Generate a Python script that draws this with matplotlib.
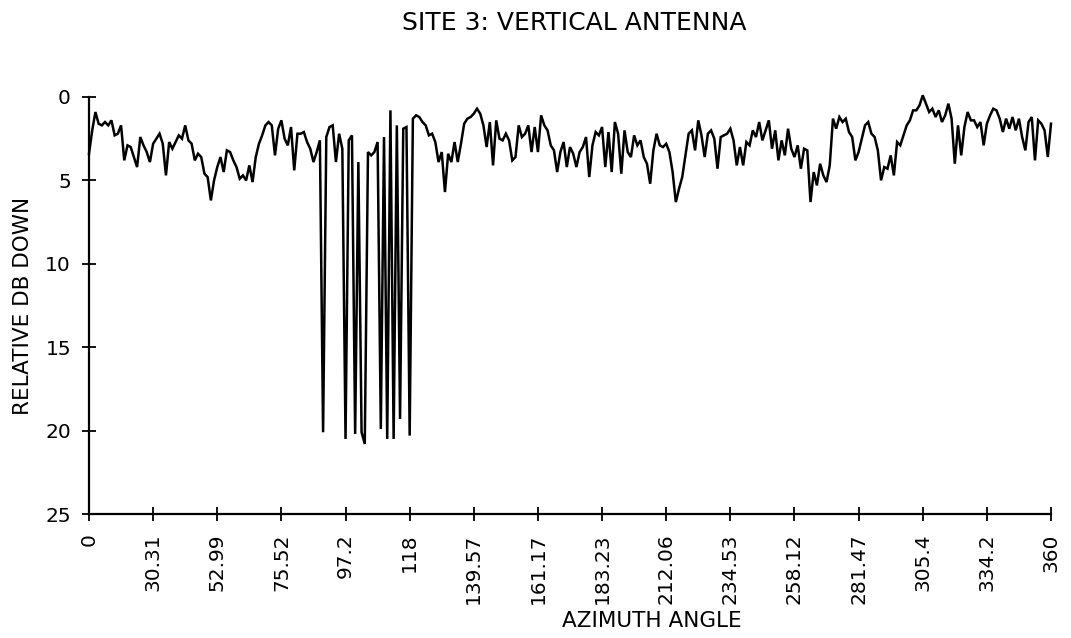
import numpy as np
import matplotlib
matplotlib.use("Agg")
import matplotlib.pyplot as plt

title = "SITE 3: VERTICAL ANTENNA"
x_label = "AZIMUTH ANGLE"
y_label = "RELATIVE DB DOWN"

# category labels shown on the x axis (every 20th sample)
azimuth_labels = ["0", "30.31", "52.99", "75.52", "97.2", "118", "139.57",
                  "161.17", "183.23", "212.06", "234.53", "258.12", "281.47",
                  "305.4", "334.2", "360"]
label_step = 20

y_ticks = [0, 5, 10, 15, 20, 25]

# relative dB down (301 samples)
db_down = [
    3.4, 2.0, 0.9, 1.6, 1.7, 1.5, 1.7, 1.4, 2.3, 2.2,
    1.7, 3.8, 2.9, 3.0, 3.6, 4.2, 2.4, 2.9, 3.3, 3.9,
    2.8, 2.5, 2.2, 2.8, 4.7, 2.7, 3.1, 2.7, 2.3, 2.5,
    1.7, 2.6, 2.8, 3.8, 3.4, 3.6, 4.6, 4.8, 6.2, 5.0,
    4.2, 3.6, 4.5, 3.2, 3.3, 3.8, 4.2, 4.9, 4.7, 5.0,
    4.1, 5.1, 3.6, 2.8, 2.3, 1.7, 1.5, 1.7, 3.5, 1.9,
    1.4, 2.5, 2.9, 1.8, 4.4, 2.2, 2.2, 2.1, 2.7, 3.1,
    3.9, 3.3, 2.6, 20.1, 2.4, 1.8, 1.7, 3.9, 2.2, 3.1,
    20.5, 2.6, 2.3, 20.2, 3.9, 20.1, 20.8, 3.3, 3.5, 3.3,
    2.7, 19.9, 2.4, 20.5, 0.8, 20.5, 1.7, 19.3, 1.9, 1.8,
    20.3, 1.3, 1.1, 1.2, 1.5, 1.7, 2.3, 2.2, 2.7, 3.9,
    3.3, 5.7, 3.4, 3.9, 2.7, 3.9, 2.8, 1.6, 1.3, 1.2,
    1.0, 0.7, 1.0, 1.7, 3.0, 1.5, 4.1, 1.4, 2.5, 2.6,
    2.2, 2.6, 3.8, 3.6, 1.7, 2.4, 2.2, 1.7, 3.3, 1.8,
    3.3, 1.1, 1.7, 2.0, 2.9, 3.2, 4.5, 3.3, 2.7, 4.2,
    3.0, 3.4, 4.2, 3.3, 3.0, 2.4, 4.8, 2.9, 2.1, 2.3,
    1.8, 4.2, 2.1, 4.5, 1.5, 2.2, 4.6, 2.0, 3.3, 3.6,
    2.3, 2.9, 2.6, 3.6, 4.0, 5.2, 3.2, 2.2, 2.9, 3.0,
    2.8, 3.3, 4.5, 6.3, 5.5, 4.8, 3.5, 2.2, 2.0, 3.2,
    1.4, 2.3, 3.6, 2.2, 2.0, 2.5, 4.3, 2.4, 2.3, 2.2,
    1.9, 2.6, 4.1, 3.0, 4.1, 2.7, 2.9, 2.0, 2.4, 1.5,
    2.6, 2.0, 1.4, 3.1, 2.0, 3.8, 2.6, 3.5, 1.9, 3.1,
    3.6, 2.9, 4.3, 3.1, 3.2, 6.3, 4.5, 5.3, 4.0, 4.7,
    5.1, 4.1, 1.3, 1.9, 1.2, 1.5, 1.3, 2.1, 2.4, 3.8,
    3.3, 2.5, 1.7, 1.5, 2.2, 2.4, 3.2, 5.0, 4.2, 4.3,
    3.5, 4.7, 2.7, 2.9, 2.3, 1.7, 1.4, 0.8, 0.8, 0.5,
    -0.1, 0.4, 0.9, 0.7, 1.2, 0.8, 1.5, 1.1, 0.4, 1.3,
    4.0, 1.7, 3.5, 1.8, 0.9, 1.4, 1.4, 1.8, 1.5, 2.9,
    1.6, 1.1, 0.7, 0.8, 1.3, 2.1, 1.3, 1.9, 1.2, 2.0,
    1.3, 2.4, 3.2, 1.5, 1.2, 3.8, 1.4, 1.6, 2.0, 3.6,
    1.6,
]

plt.rcParams['font.family'] = ['DejaVu Sans']

W, H = 1071, 638
fig = plt.figure(figsize=(W / 100, H / 100), dpi=100)
ax_left, ax_right, ax_top, ax_bottom = 89, 1051, 97, 514
ax = fig.add_axes([ax_left / W, 1 - ax_bottom / H,
                   (ax_right - ax_left) / W, (ax_bottom - ax_top) / H])

idx = np.arange(len(db_down))
ax.plot(idx, db_down, color="black", lw=1.8, solid_joinstyle="miter",
        clip_on=False)

ax.set_xlim(0, len(db_down) - 1)
ax.set_ylim(25, 0)

tick_pos = np.arange(len(azimuth_labels)) * label_step
ax.set_xticks(tick_pos)
ax.set_xticklabels(azimuth_labels, rotation=90, fontsize=14.5)
ax.set_yticks(y_ticks)
ax.set_yticklabels([str(v) for v in y_ticks], fontsize=14.5)

ax.tick_params(axis="both", direction="inout", length=10, width=1.3,
               color="black")
ax.tick_params(axis="x", pad=9)
ax.tick_params(axis="y", pad=8)

for s in ["top", "right"]:
    ax.spines[s].set_visible(False)
for s in ["left", "bottom"]:
    ax.spines[s].set_linewidth(1.6)

fig.text(574 / W, 1 - 23 / H, title, fontsize=18, ha="center", va="center")
fig.text(652 / W, 1 - 621 / H, x_label, fontsize=15.5, ha="center",
         va="center")
fig.text(23 / W, 1 - 306 / H, y_label, fontsize=15.5, ha="center",
         va="center", rotation=90)

fig.savefig("out.png", dpi=100)
